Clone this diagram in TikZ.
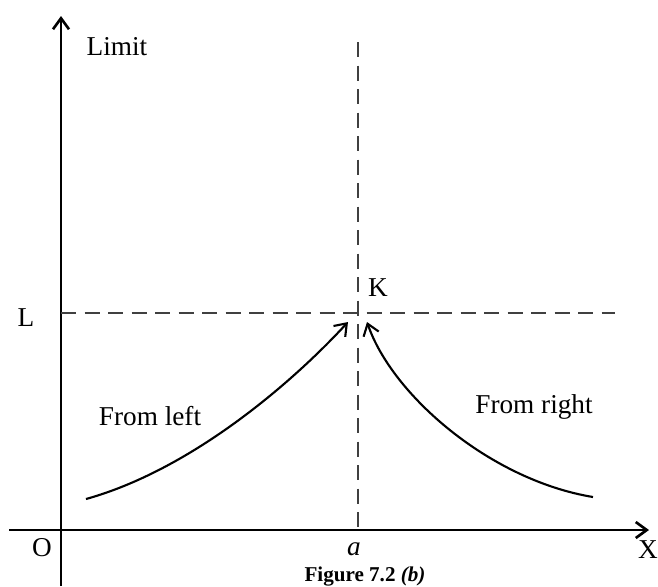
\documentclass[tikz,border=0pt]{standalone}
\usepackage{fontspec}
\setmainfont{Liberation Serif}
\usetikzlibrary{arrows.meta,positioning}
\tikzset{
  >={Straight Barb[length=2.2mm,width=3.2mm]},
  axis/.style={->,line width=1.5pt},
  guide/.style={line width=1.1pt,black!75,dash pattern=on 3mm off 1.7mm},
  approach/.style={->,line width=1.2pt},
  lbl/.style={font=\fontsize{15.5}{18}\selectfont,inner sep=1pt},
  caplbl/.style={font=\fontsize{12}{14}\selectfont\bfseries,inner sep=0pt},
}
\begin{document}
\begin{tikzpicture}[x=0.2mm,y=-0.2mm]
  \useasboundingbox (0,0) rectangle (658,586);
  % axes
  \coordinate (ybot) at (61,586);
  \coordinate (ytop) at (61,16);
  \coordinate (xleft) at (9,530);
  \coordinate (xright) at (649,530);
  \draw[axis] (ybot) -- (ytop);
  \draw[axis] (xleft) -- (xright);
  % limit lines
  \coordinate (vtop) at (358,42);
  \coordinate (vbot) at (358,530);
  \coordinate (hleft) at (61,313);
  \coordinate (hright) at (615,313);
  \draw[guide] (vtop) -- (vbot);
  \draw[guide] (hleft) -- (hright);
  % approaching curves
  \coordinate (lstart) at (86,499);
  \coordinate (ltip) at (348,322);
  \coordinate (rstart) at (593,497);
  \coordinate (rtip) at (367,322);
  \draw[approach] (lstart) .. controls (190,470) and (290,385) .. (ltip);
  \draw[approach] (rstart) .. controls (490,480) and (392,395) .. (rtip);
  % labels
  \node[lbl] (limit) at (117,47) {Limit};
  \node[lbl] (Llab) at (26,318) {L};
  \node[lbl] (Klab) at (378,288) {K};
  \node[lbl] (Olab) at (42,548) {O};
  \node[lbl] (alab) at (354,549) {\textit{a}};
  \node[lbl] (Xlab) at (648,550) {X};
  \node[lbl] (fromleft) at (150,416) {From left};
  \node[lbl] (fromright) at (534,407) {From right};
  \node[caplbl,anchor=south] (caption) at (365,586) {Figure 7.2 \textit{(b)}};
\end{tikzpicture}
\end{document}
